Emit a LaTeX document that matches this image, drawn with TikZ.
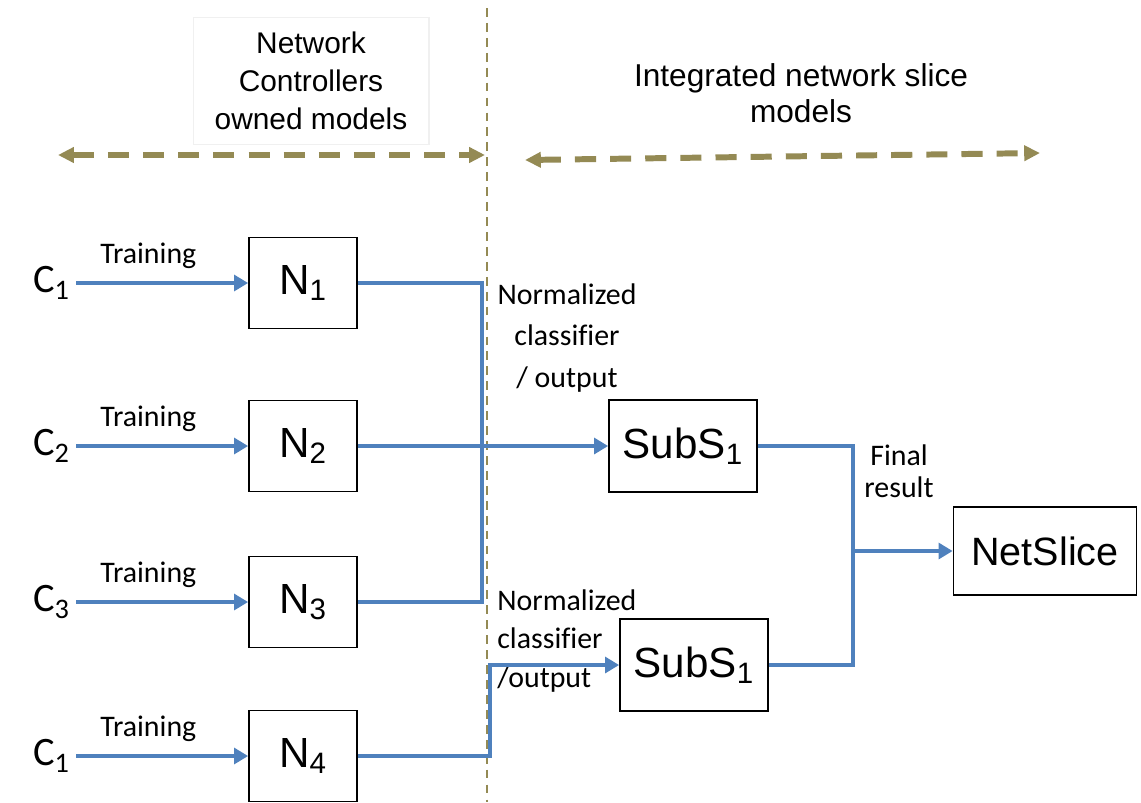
\documentclass[tikz,border=0pt]{standalone}
\usepackage{fontspec}
\setmainfont{Liberation Sans}
\newfontfamily\calfont[Ligatures=NoCommon]{Carlito}
\usetikzlibrary{arrows.meta}
\definecolor{flowblue}{HTML}{4F81BD}
\definecolor{spanolive}{HTML}{948A54}

\begin{document}
\begin{tikzpicture}[x=0.02cm, y=-0.02cm,
  nbox/.style={draw=black, line width=1pt, inner sep=0pt, minimum width=2.16cm, minimum height=1.82cm, font=\fontsize{24}{28}\selectfont},
  sbox/.style={nbox, minimum width=2.96cm, minimum height=1.84cm},
  flow/.style={draw=flowblue, line width=2.7pt},
  tip/.style={-{Triangle[length=8pt,width=9pt]}},
  span/.style={draw=spanolive, line width=3.4pt, dash pattern=on 12pt off 8pt, {Triangle[length=9pt,width=8.5pt]}-{Triangle[length=9pt,width=8.5pt]}},
  lbl/.style={font=\calfont\fontsize{17}{22}\selectfont, inner sep=0pt},
  cname/.style={font=\calfont\fontsize{23}{26}\selectfont, anchor=east}]
\useasboundingbox (0,0) rectangle (1141,802);

\coordinate (vt) at (487,8);
\coordinate (vb) at (487,802);
\draw[spanolive, line width=1.2pt, dash pattern=on 5pt off 3.5pt] (vt) -- (vb);

\node[draw=gray!12, line width=0.6pt, minimum width=4.72cm, minimum height=2.54cm, align=center, font=\fontsize{17}{21.8}\selectfont] (own) at (311,81) {Network\\Controllers\\owned models};
\node[font=\fontsize{18}{20.4}\selectfont, align=center] (integ) at (801,93) {Integrated network slice\\models};

\coordinate (la) at (58,155);
\coordinate (lb) at (485,155);
\draw[span] (la) -- (lb);
\coordinate (ra) at (525,160);
\coordinate (rb) at (1040,153);
\draw[span] (ra) -- (rb);

\foreach \c/\k/\y in {1/1/283, 2/2/446, 3/3/602, 1/4/756} {
  \node[cname] (c\k) at (76,\y) {C\textsubscript{\c}};
  \node[nbox] (n\k) at (303,\y) {N\textsubscript{\k}};
  \draw[flow, tip] (c\k) -- (n\k) node[lbl, pos=0.42, above=7pt] {Training};
}

\node[sbox] (s1) at (683,446) {SubS\textsubscript{1}};
\node[sbox] (s2) at (694,665) {SubS\textsubscript{1}};
\node[nbox, minimum width=3.66cm, minimum height=1.76cm, font=\fontsize{22.5}{26}\selectfont] (ns) at (1045,551) {NetSlice};

\node[lbl, align=center, font=\calfont\fontsize{17}{23.5}\selectfont] (norm1) at (567,338) {Normalized\\classifier\\/ output};
\node[lbl, align=left, anchor=west, font=\calfont\fontsize{17}{21.8}\selectfont] (norm2) at (497,641) {Normalized\\classifier\\/output};
\node[lbl, align=center, font=\calfont\fontsize{17}{18.5}\selectfont] (final) at (899,471) {Final\\result};

\coordinate (bus) at (482,446);
\draw[flow] (n1.east) -| (bus) |- (n3.east);
\draw[flow, tip] (n2.east) -- (s1.west);
\coordinate (jn) at (490,665);
\draw[flow, tip] (n4.east) -| (jn) -- (s2.west);
\coordinate (fr) at (853,551);
\draw[flow] (s1.east) -| (fr) |- (s2.east);
\draw[flow, tip] (fr) -- (ns.west);
\end{tikzpicture}
\end{document}
